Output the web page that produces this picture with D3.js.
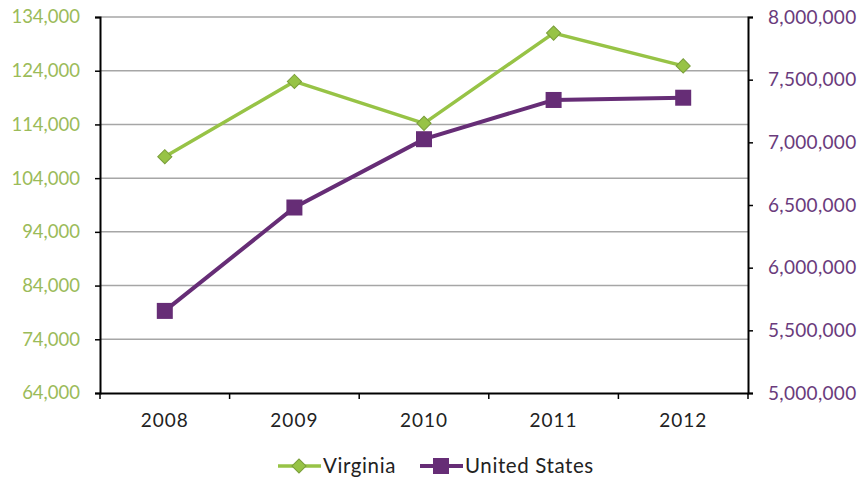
<!DOCTYPE html>
<html>
<head>
<meta charset="utf-8">
<script src="https://cdn.jsdelivr.net/npm/d3@7"></script>
<style>
  body { margin: 0; background: #fff; }
  text { font-family: Lato, "Open Sans", sans-serif; }
</style>
</head>
<body>
<svg width="862" height="480"></svg>
<script>
var years = ["2008", "2009", "2010", "2011", "2012"];
var virginia = [108000, 122000, 114200, 131000, 124900];
var unitedStates = [5655000, 6480000, 7025000, 7338000, 7356000];
var leftTicks = [64000, 74000, 84000, 94000, 104000, 114000, 124000, 134000];
var rightTicks = [5000000, 5500000, 6000000, 6500000, 7000000, 7500000, 8000000];

var green = "#97c346", greenText = "#9bbb59", greenEdge = "#7a9e3a";
var purple = "#662d76", purpleText = "#6a3b7c";

var svg = d3.select("svg");
var plotL = 100, plotR = 748, plotT = 17, plotB = 393;

var x = d3.scaleBand().domain(years).range([plotL, plotR]);
var yL = d3.scaleLinear().domain([64000, 134000]).range([plotB, plotT]);
var yR = d3.scaleLinear().domain([5000000, 8000000]).range([plotB, plotT]);
var fmt = d3.format(",");

// gridlines
svg.append("g")
  .selectAll("line")
  .data(leftTicks.slice(1))
  .enter().append("line")
  .attr("x1", plotL).attr("x2", plotR)
  .attr("y1", d => yL(d)).attr("y2", d => yL(d))
  .attr("stroke", "#a6a6a6").attr("stroke-width", 1.5);

// left axis
var gl = svg.append("g").attr("transform", "translate(" + plotL + ",0)")
  .call(d3.axisLeft(yL).tickValues(leftTicks).tickFormat(fmt).tickSize(5).tickPadding(15));
gl.selectAll("text").attr("fill", greenText).style("font-size", "18.5px");

// right axis
var gr = svg.append("g").attr("transform", "translate(" + plotR + ",0)")
  .call(d3.axisRight(yR).tickValues(rightTicks).tickFormat(fmt).tickSize(5).tickPadding(15));
gr.selectAll("text").attr("fill", purpleText).style("font-size", "19px").style("letter-spacing", "0.3px");

// bottom axis: ticks at category boundaries
var gx = svg.append("g").attr("transform", "translate(0," + plotB + ")")
  .call(d3.axisBottom(x).tickSize(0).tickPadding(21));
gx.selectAll("text").attr("fill", "#222").style("font-size", "19px").style("letter-spacing", "1px");
gx.selectAll(".bnd")
  .data(years.concat(["end"]))
  .enter().append("line")
  .attr("x1", (d, i) => plotL + i * x.bandwidth())
  .attr("x2", (d, i) => plotL + i * x.bandwidth())
  .attr("y1", 0).attr("y2", 6)
  .attr("stroke", "#000").attr("stroke-width", 1.5);

svg.selectAll(".domain").attr("stroke", "#000").attr("stroke-width", 2);
svg.selectAll(".tick line").attr("stroke", "#000").attr("stroke-width", 1.5);

var cx = d => x(d) + x.bandwidth() / 2;

// US line
svg.append("path")
  .datum(unitedStates)
  .attr("fill", "none").attr("stroke", purple).attr("stroke-width", 4)
  .attr("d", d3.line().x((d, i) => cx(years[i])).y(d => yR(d)));
svg.selectAll(".sq")
  .data(unitedStates)
  .enter().append("rect")
  .attr("x", (d, i) => cx(years[i]) - 8).attr("y", d => yR(d) - 8)
  .attr("width", 16).attr("height", 16)
  .attr("fill", purple);

// Virginia line
svg.append("path")
  .datum(virginia)
  .attr("fill", "none").attr("stroke", green).attr("stroke-width", 3.5)
  .attr("d", d3.line().x((d, i) => cx(years[i])).y(d => yL(d)));
var diamond = d3.symbol().type(d3.symbolSquare).size(100);
svg.selectAll(".dm")
  .data(virginia)
  .enter().append("path")
  .attr("d", diamond)
  .attr("transform", (d, i) => "translate(" + cx(years[i]) + "," + yL(d) + ") rotate(45)")
  .attr("fill", green).attr("stroke", greenEdge).attr("stroke-width", 1);

// legend
var leg = svg.append("g").attr("transform", "translate(0,466)");
leg.append("line").attr("x1", 278).attr("x2", 321).attr("stroke", green).attr("stroke-width", 3.5);
leg.append("path").attr("d", diamond).attr("transform", "translate(299,0) rotate(45)")
  .attr("fill", green).attr("stroke", greenEdge);
leg.append("text").attr("x", 323).attr("y", 7).text("Virginia")
  .attr("fill", "#222").style("font-size", "20.5px").style("letter-spacing", "0.6px");
leg.append("line").attr("x1", 420).attr("x2", 463).attr("stroke", purple).attr("stroke-width", 4);
leg.append("rect").attr("x", 433).attr("y", -8).attr("width", 16).attr("height", 16).attr("fill", purple);
leg.append("text").attr("x", 465).attr("y", 7).text("United States")
  .attr("fill", "#222").style("font-size", "20.5px").style("letter-spacing", "0.6px");
</script>
</body>
</html>
